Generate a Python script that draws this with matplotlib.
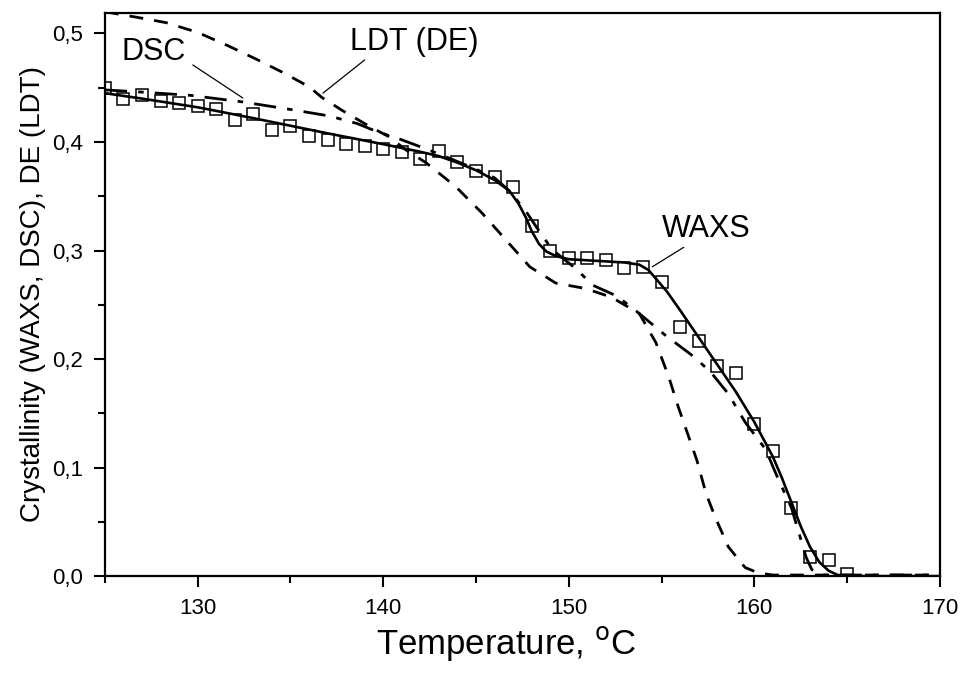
import matplotlib
matplotlib.use("Agg")
import matplotlib.pyplot as plt
from matplotlib.ticker import MultipleLocator

plt.rcParams['font.family'] = ['Liberation Sans', 'DejaVu Sans']

# WAXS measured points
waxs_T = list(range(125, 166))
waxs_y = [0.450, 0.440, 0.443, 0.438, 0.436, 0.433, 0.430, 0.420, 0.426, 0.411,
          0.415, 0.406, 0.402, 0.398, 0.396, 0.394, 0.391, 0.384, 0.392, 0.382,
          0.373, 0.368, 0.359, 0.323, 0.300, 0.293, 0.293, 0.291, 0.284, 0.285,
          0.271, 0.230, 0.217, 0.194, 0.187, 0.140, 0.115, 0.063, 0.018, 0.015,
          0.002]

# WAXS fit (solid)
fit_T = [125, 127, 130, 133, 135, 137, 140, 142, 143, 144, 145, 146, 146.8,
         147.3, 147.7, 148, 148.4, 148.8, 149.3, 150, 151, 152, 153, 153.8,
         154.3, 154.8, 155.3, 156, 157, 158, 159, 160, 160.5, 161, 161.5, 162,
         162.5, 163, 163.5, 164, 164.5, 165, 170]
fit_y = [0.445, 0.440, 0.432, 0.422, 0.415, 0.408, 0.398, 0.391, 0.387, 0.381,
         0.374, 0.365, 0.355, 0.343, 0.330, 0.318, 0.306, 0.299, 0.295, 0.292,
         0.291, 0.290, 0.289, 0.287, 0.282, 0.272, 0.262, 0.245, 0.220, 0.195,
         0.170, 0.142, 0.126, 0.110, 0.090, 0.068, 0.046, 0.027, 0.013, 0.005,
         0.001, 0.0, 0.0]

# DSC (dash-dot)
dsc_T = [125, 127, 129.6, 132.4, 135, 137.1, 138.6, 139.6, 141, 142.1, 143, 144,
         145, 146, 146.8, 147.7, 148.4, 149.1, 150.4, 151.3, 152.6, 153.8, 155.2,
         156.6, 157.6, 158.6, 159.5, 160.6, 161.3, 162.0, 162.4, 162.8, 163.1,
         163.6, 170]
dsc_y = [0.448, 0.446, 0.443, 0.437, 0.430, 0.424, 0.417, 0.410, 0.402, 0.395,
         0.389, 0.382, 0.375, 0.367, 0.355, 0.336, 0.318, 0.301, 0.283, 0.268,
         0.258, 0.242, 0.222, 0.204, 0.189, 0.168, 0.142, 0.117, 0.089, 0.063,
         0.040, 0.017, 0.006, 0.001, 0.001]

# LDT / DE (dashed)
ldt_T = [125, 126.7, 128.3, 130, 131.6, 133.2, 134.6, 136, 136.7, 137.8, 139.3,
         140.3, 141.2, 142.3, 143.9, 145.3, 146.6, 147.9, 149.3, 150.9, 152.3,
         153.8, 154.7, 155.4, 155.9, 156.9, 157.4, 157.9, 158.6, 159.5, 160.2,
         161, 170]
ldt_y = [0.520, 0.515, 0.510, 0.501, 0.489, 0.476, 0.464, 0.451, 0.441, 0.429,
         0.414, 0.405, 0.393, 0.381, 0.359, 0.335, 0.310, 0.285, 0.270, 0.265,
         0.257, 0.242, 0.215, 0.183, 0.156, 0.107, 0.076, 0.054, 0.027, 0.008,
         0.003, 0.001, 0.001]

x_ticks = [130, 140, 150, 160, 170]
y_ticks = [0.0, 0.1, 0.2, 0.3, 0.4, 0.5]
y_labels = ['0,0', '0,1', '0,2', '0,3', '0,4', '0,5']

# labels: text, text position, pointer start, pointer end
notes = [
    ('DSC', (127.65, 0.483), (129.74, 0.471), (132.44, 0.4405)),
    ('LDT (DE)', (141.7, 0.492), (139.0, 0.4756), (136.75, 0.445)),
    ('WAXS', (157.4, 0.320), (156.2, 0.303), (154.5, 0.285)),
]

fig = plt.figure(figsize=(9.62, 6.77), dpi=100)
ax = fig.add_axes([0.109, 0.149, 0.868, 0.832])

ax.plot(fit_T, fit_y, color='black', lw=1.9, zorder=3)
ax.plot(dsc_T, dsc_y, color='black', lw=2.0, dashes=(8, 4, 2, 4), zorder=2)
ax.plot(ldt_T, ldt_y, color='black', lw=2.0, dashes=(5, 4), zorder=2)
ax.plot(waxs_T, waxs_y, ls='none', marker='s', ms=9, mfc='none', mec='black',
        mew=1.1, zorder=4)

ax.set_xlim(125, 170)
ax.set_ylim(0, 0.519)
ax.set_xticks(x_ticks)
ax.set_yticks(y_ticks, y_labels)
ax.xaxis.set_minor_locator(MultipleLocator(5))
ax.yaxis.set_minor_locator(MultipleLocator(0.05))
ax.tick_params(which='major', direction='out', length=8, width=1.5,
               labelsize=16, pad=8, top=False, right=False)
ax.tick_params(which='minor', direction='out', length=5, width=1.5,
               top=False, right=False)
for s in ax.spines.values():
    s.set_linewidth(1.6)

ax.set_xlabel('Temperature, $^{\\mathrm{o}}$C', fontsize=25)
ax.xaxis.set_label_coords(0.481, -0.085)
ax.set_ylabel('Crystallinity (WAXS, DSC), DE (LDT)', fontsize=20, labelpad=4)

for txt, pos, p0, p1 in notes:
    ax.text(pos[0], pos[1], txt, fontsize=22, ha='center', va='center')
    ax.annotate('', xy=p1, xytext=p0,
                arrowprops=dict(arrowstyle='-', color='black', lw=0.9,
                                shrinkA=0, shrinkB=0))

fig.savefig('out.png', dpi=100)
